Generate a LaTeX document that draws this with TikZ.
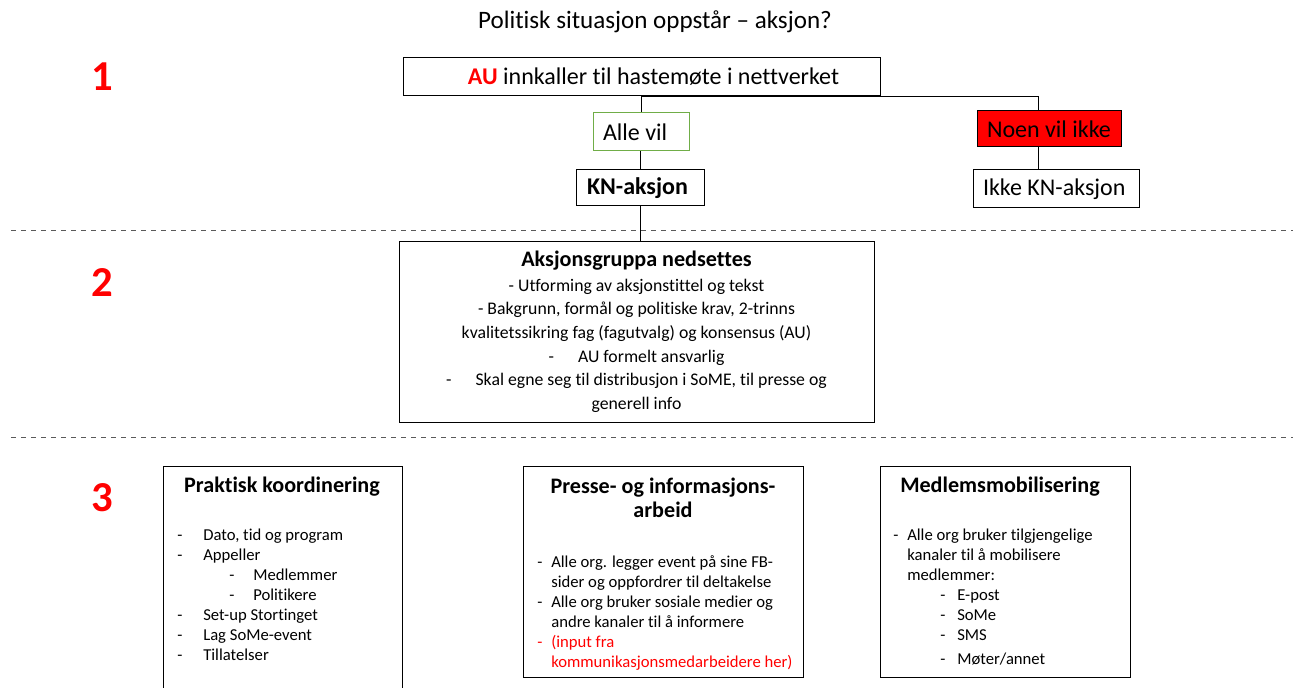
\documentclass[tikz,border=0pt]{standalone}
\usepackage{fontspec}
\setmainfont{Carlito}[Ligatures=NoCommon]
\definecolor{aured}{RGB}{255,0,0}
\definecolor{okgreen}{RGB}{112,173,71}
\definecolor{sepgray}{RGB}{90,90,90}
\newcommand{\dashitem}[3]{\hspace*{#1}\makebox[#2][l]{-}#3}
\begin{document}
\begin{tikzpicture}[x=0.75pt,y=-0.75pt,
    box/.style={draw, line width=0.75pt, inner sep=0pt},
    hd/.style={font=\fontsize{18}{21}\selectfont},
    num/.style={text=aured, font=\fontsize{32}{36}\selectfont\bfseries},
    sub/.style={font=\fontsize{16.6}{18}\selectfont\bfseries, align=center},
    lst/.style={anchor=north west, inner sep=0pt, align=left, font=\fontsize{12.5}{15}\selectfont},
    con/.style={line width=0.75pt},
    sep/.style={draw=sepgray, line width=0.75pt, dash pattern=on 3.75pt off 3.75pt}]
    \useasboundingbox (0,0) rectangle (1296,688);
    \node[font=\fontsize{18.8}{22}\selectfont] (title) at (655,22) {Politisk situasjon oppstår – aksjon?};
    \node[num] (n1) at (102,77) {1};
    \node[num] (n2) at (102,283) {2};
    \node[num] (n3) at (102,498) {3};
    % level 1
    \node[box, hd, minimum width=357.75pt, minimum height=28.5pt] (au) at (641.5,77)
        {\hspace*{18pt}\textcolor{aured}{\textbf{AU}} innkaller til hastemøte i nettverket};
    \node[box, hd, draw=okgreen, inner xsep=7.5pt, minimum height=28.5pt] (alle) at (641,132) {\makebox[57pt][l]{Alle vil}};
    \node[box, hd, inner xsep=8.25pt, minimum height=27pt] (kn) at (640,188) {\makebox[79.5pt][l]{\textbf{KN-aksjon}}};
    \node[box, hd, fill=aured, inner xsep=7.5pt, minimum height=27pt] (noen) at (1049,129) {\makebox[93pt][l]{Noen vil ikke}};
    \node[box, hd, inner xsep=7.5pt, minimum height=28.5pt] (ikke) at (1056,189) {\makebox[109.5pt][l]{Ikke KN-aksjon}};
    \draw[sep] (11,231) -- (1293,231);
    \draw[sep] (11,437) -- (1293,437);
    % level 2
    \node[box, minimum width=356.25pt, minimum height=135.75pt, align=center, font=\fontsize{13.3}{17.7}\selectfont] (akg) at (636.5,331.5)
        {{\fontsize{16.6}{18}\selectfont\bfseries Aksjonsgruppa nedsettes}\\[1pt]
         - Utforming av aksjonstittel og tekst\\
         - Bakgrunn, formål og politiske krav, 2-trinns\\
         kvalitetssikring fag (fagutvalg) og konsensus (AU)\\
         -\hspace{18pt}AU formelt ansvarlig\\
         -\hspace{18pt}Skal egne seg til distribusjon i SoME, til presse og\\
         generell info};
    \coordinate (tap) at (1038,96);
    \draw[con] (alle.north |- au.south) -- (alle.north);
    \draw[con] (kn.north |- alle.south) -- (kn.north);
    \draw[con] (kn.south) -- (kn.south |- akg.north);
    \draw[con] (au.south) -| (tap |- noen.north);
    \draw[con] (tap |- noen.south) -- (tap |- ikke.north);
    % level 3
    \node[box, minimum width=179.25pt, minimum height=169.5pt] (prak) at (282.5,579) {};
    \node[box, minimum width=210pt, minimum height=158.25pt] (presse) at (663,571.5) {};
    \node[box, minimum width=187.5pt, minimum height=158.25pt] (medl) at (1005,571.5) {};
    \node[sub] (prakhd) at (282,487) {Praktisk koordinering};
    \node[sub] (pressehd) at (663,498) {Presse- og informasjons-\\arbeid};
    \node[sub] (medlhd) at (1000,487) {Medlemsmobilisering};
    \node[lst] (praklst) at (177,529) {%
        \dashitem{0pt}{19.5pt}{Dato, tid og program}\\
        \dashitem{0pt}{19.5pt}{Appeller}\\
        \dashitem{39pt}{18pt}{Medlemmer}\\
        \dashitem{39pt}{18pt}{Politikere}\\
        \dashitem{0pt}{19.5pt}{Set-up Stortinget}\\
        \dashitem{0pt}{19.5pt}{Lag SoMe-event}\\
        \dashitem{0pt}{19.5pt}{Tillatelser}};
    \node[lst] (presselst) at (537,555) {%
        \dashitem{0pt}{10.5pt}{Alle org. legger event på sine FB-}\\
        \hspace*{10.5pt}sider og oppfordrer til deltakelse\\
        \dashitem{0pt}{10.5pt}{Alle org bruker sosiale medier og}\\
        \hspace*{10.5pt}andre kanaler til å informere\\
        \textcolor{aured}{\dashitem{0pt}{10.5pt}{(input fra}}\\
        \textcolor{aured}{\hspace*{10.5pt}kommunikasjonsmedarbeidere her)}};
    \node[lst] (medllst) at (893,529) {%
        \dashitem{0pt}{10.5pt}{Alle org bruker tilgjengelige}\\
        \hspace*{10.5pt}kanaler til å mobilisere\\
        \hspace*{10.5pt}medlemmer:\\
        \dashitem{35.25pt}{12.75pt}{E-post}\\
        \dashitem{35.25pt}{12.75pt}{SoMe}\\
        \dashitem{35.25pt}{12.75pt}{SMS}\\[3pt]
        \dashitem{35.25pt}{12.75pt}{Møter/annet}};
\end{tikzpicture}
\end{document}
